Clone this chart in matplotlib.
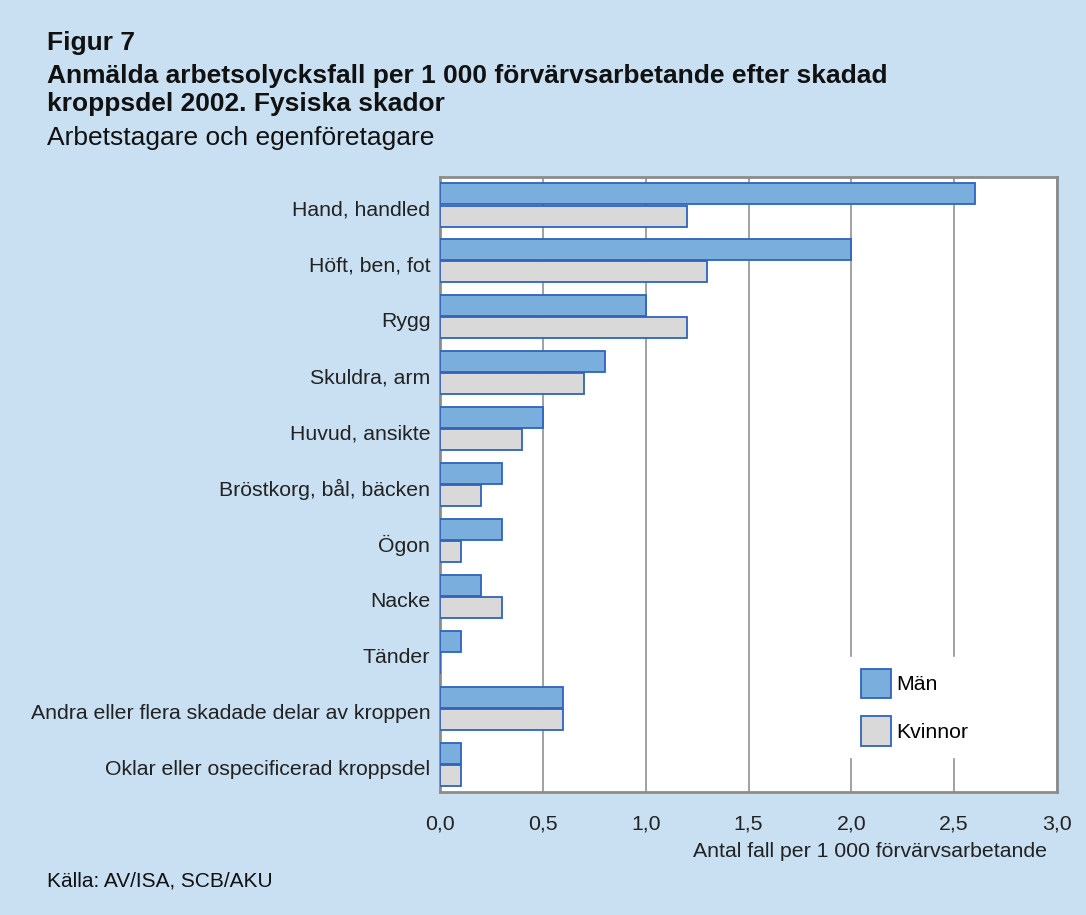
import numpy as np
import matplotlib.pyplot as plt
import matplotlib.transforms as mtransforms
from matplotlib.patches import Patch

plt.rcParams['font.family'] = ['Liberation Sans', 'DejaVu Sans']

# Data
categories = ["Hand, handled", "Höft, ben, fot", "Rygg", "Skuldra, arm",
              "Huvud, ansikte", "Bröstkorg, bål, bäcken", "Ögon", "Nacke",
              "Tänder", "Andra eller flera skadade delar av kroppen",
              "Oklar eller ospecificerad kroppsdel"]
man = [2.6, 2.0, 1.0, 0.8, 0.5, 0.3, 0.3, 0.2, 0.1, 0.6, 0.1]
kvinnor = [1.2, 1.3, 1.2, 0.7, 0.4, 0.2, 0.1, 0.3, 0.0, 0.6, 0.1]
xticks = [0.0, 0.5, 1.0, 1.5, 2.0, 2.5, 3.0]

bg = "#c9e0f3"
c_man = "#7aaedc"
c_kv = "#d9d9d9"
c_edge = "#2f63bd"
txt = "#222222"
fs = 15.3

fig = plt.figure(figsize=(10.86, 9.15), dpi=100, facecolor=bg)
ax = fig.add_axes([0.4052, 0.1344, 0.5681, 0.6721])

y = np.arange(len(categories))
h = 0.375
ax.barh(y - h / 2 - 0.01, man, height=h, color=c_man, edgecolor=c_edge,
        linewidth=1.3, zorder=3)
ax.barh(y + h / 2 + 0.01, kvinnor, height=h, color=c_kv, edgecolor=c_edge,
        linewidth=1.3, zorder=3)

ax.set_ylim(len(categories) - 0.5, -0.5)
ax.set_xlim(0, 3.0)
ax.set_yticks(y)
ax.set_yticklabels(categories, fontsize=fs, color=txt)
ax.set_xticks(xticks)
ax.set_xticklabels([f"{t:.1f}".replace(".", ",") for t in xticks],
                   fontsize=fs, color=txt)
ax.tick_params(length=0)
ax.tick_params(axis='y', pad=7)
ax.tick_params(axis='x', pad=16)
# labels sit a little below the middle of each pair of bars
for lab in ax.get_yticklabels():
    lab.set_transform(lab.get_transform() +
                      mtransforms.ScaledTranslation(0, -3 / 100, fig.dpi_scale_trans))

ax.xaxis.grid(True, color="#9a9a9a", linewidth=1.3, zorder=0)
ax.set_axisbelow(True)
for s in ax.spines.values():
    s.set_color("#8c8c8c")
    s.set_linewidth(2)

handles = [Patch(facecolor=c_man, edgecolor=c_edge, linewidth=1.3, label="Män"),
           Patch(facecolor=c_kv, edgecolor=c_edge, linewidth=1.3, label="Kvinnor")]
leg = ax.legend(handles=handles, loc="upper left", bbox_to_anchor=(0.7818, 0.2820),
                bbox_transform=fig.transFigure,
                frameon=True, fancybox=False, facecolor="white", edgecolor="white",
                framealpha=1, fontsize=fs, handlelength=1.42, handleheight=1.76,
                handletextpad=0.25, labelspacing=0.85, borderpad=0.55,
                borderaxespad=0)
leg.set_zorder(5)

fig.text(0.9641, 0.0699, "Antal fall per 1 000 förvärvsarbetande", fontsize=fs,
         color=txt, ha="right", va="center")

fig.text(0.043, 0.953, "Figur 7", fontsize=19, fontweight="bold",
         color="#111111", va="center")
fig.text(0.043, 0.917, "Anmälda arbetsolycksfall per 1 000 förvärvsarbetande efter skadad",
         fontsize=19, fontweight="bold", color="#111111", va="center")
fig.text(0.043, 0.886, "kroppsdel 2002. Fysiska skador", fontsize=19,
         fontweight="bold", color="#111111", va="center")
fig.text(0.043, 0.849, "Arbetstagare och egenföretagare", fontsize=19,
         color="#111111", va="center")
fig.text(0.043, 0.037, "Källa: AV/ISA, SCB/AKU", fontsize=15,
         color="#111111", va="center")

fig.savefig("out.png", dpi=100, facecolor=bg)
